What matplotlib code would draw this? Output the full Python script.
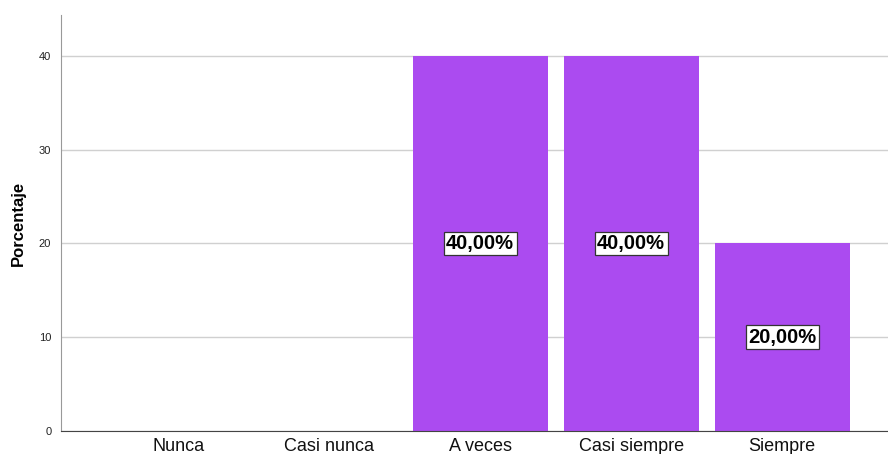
import matplotlib
matplotlib.use('Agg')
import matplotlib.pyplot as plt
import numpy as np

# categories and percentages
categorias = ['Nunca', 'Casi nunca', 'A veces', 'Casi siempre', 'Siempre']
porcentaje = [0.0, 0.0, 40.0, 40.0, 20.0]
etiquetas  = ['', '', '40,00%', '40,00%', '20,00%']

plt.rcParams['font.family'] = ['Liberation Sans', 'DejaVu Sans']

fig = plt.figure(figsize=(8.88, 4.54), dpi=100)
ax = fig.add_axes([61/888, 1-431/454, 1-61/888, (431-15)/454])

x = np.arange(len(categorias))
ax.bar(x, porcentaje, width=0.894, color='#AB4BF0', zorder=2)

for xi, v, lab in zip(x, porcentaje, etiquetas):
    if lab:
        ax.text(xi, v/2, lab, ha='center', va='center', fontsize=14.5,
                fontweight='bold', color='black', zorder=3,
                bbox=dict(boxstyle='square,pad=0.12', fc='white',
                          ec='#333333', lw=0.9))

ax.set_xlim(-0.775, 4.70)
ax.set_ylim(0, 44.37)
ax.set_yticks([0, 10, 20, 30, 40])
ax.set_xticks(x)
ax.set_xticklabels(categorias, fontsize=13, color='#111111')
ax.tick_params(axis='x', length=0, pad=5)
ax.tick_params(axis='y', length=0, labelsize=8, pad=7, labelcolor='#222222')
ax.yaxis.grid(True, color='#d0d0d0', lw=1, zorder=0)
ax.set_axisbelow(True)
ax.set_ylabel('Porcentaje', fontsize=12, fontweight='bold')
ax.yaxis.set_label_coords(-35/827, 0.5)

for s in ['top', 'right']:
    ax.spines[s].set_visible(False)
ax.spines['left'].set_color('#999999')
ax.spines['bottom'].set_color('#444444')

fig.savefig('out.png', dpi=100)
